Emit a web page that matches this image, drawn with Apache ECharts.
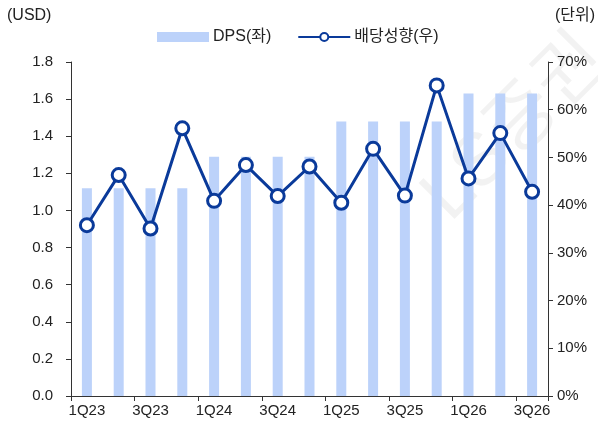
<!DOCTYPE html>
<html><head><meta charset="utf-8">
<script src="https://cdn.jsdelivr.net/npm/echarts@6/dist/echarts.min.js"></script>
<style>html,body{margin:0;padding:0;background:#fff}#c{width:598px;height:426px}</style>
</head><body><div id="c"></div>
<script>
const categories = ['1Q23','2Q23','3Q23','4Q23','1Q24','2Q24','3Q24','4Q24','1Q25','2Q25','3Q25','4Q25','1Q26','2Q26','3Q26'];
const dps = [1.12,1.12,1.12,1.12,1.29,1.29,1.29,1.29,1.48,1.48,1.48,1.48,1.63,1.63,1.63];
const payout = [35.8,46.3,35.1,56.1,40.9,48.4,41.9,48.1,40.5,51.8,42.0,65.1,45.6,55.1,42.8];
const leftTicks = [0,0.2,0.4,0.6,0.8,1.0,1.2,1.4,1.6,1.8];
const rightTicks = [0,10,20,30,40,50,60,70];

const font = '"Liberation Sans","Noto Sans CJK KR",sans-serif';
const chart = echarts.init(document.getElementById('c'));
chart.setOption({
  animation:false,
  textStyle:{fontFamily:font},
  grid:{left:71,right:50,top:62,bottom:30,containLabel:false},
  legend:{
    top:24,left:152,itemGap:26,itemWidth:52,itemHeight:10,
    textStyle:{fontSize:16,color:'#222',fontFamily:font,padding:[0,0,0,-1]},
    data:[{name:'DPS(좌)',icon:'rect'},{name:'배당성향(우)'}]
  },
  graphic:[
    {type:'text',left:7,top:8,style:{text:'(USD)',fontSize:16,fill:'#222',fontFamily:font}},
    {type:'text',right:3,top:8,style:{text:'(단위)',fontSize:16,fill:'#222',fontFamily:font}},
    {type:'text',x:462,y:235,rotation:Math.PI/4,z:-1,style:{text:'LS증권',fontSize:74,verticalAlign:'bottom',fill:'rgba(0,0,0,0.05)',fontFamily:font}}
  ],
  xAxis:{
    type:'category',data:categories,boundaryGap:true,
    axisLine:{lineStyle:{color:'#333',width:1}},
    axisTick:{show:true,alignWithLabel:false,length:5,lineStyle:{color:'#333'}},
    axisLabel:{interval:1,color:'#222',fontSize:15,margin:7,fontFamily:font}
  },
  yAxis:[
    {type:'value',min:0,max:1.8,interval:0.2,
     axisLine:{show:true,lineStyle:{color:'#333'}},
     axisTick:{show:true,length:5,lineStyle:{color:'#333'}},
     splitLine:{show:false},
     axisLabel:{color:'#222',fontSize:15,margin:18,formatter:v=>v.toFixed(1),fontFamily:font}},
    {type:'value',min:0,max:70,interval:10,position:'right',
     axisLine:{show:true,lineStyle:{color:'#333'}},
     axisTick:{show:true,length:5,lineStyle:{color:'#333'}},
     splitLine:{show:false},
     axisLabel:{color:'#222',fontSize:15,margin:9,formatter:'{value}%',fontFamily:font}}
  ],
  series:[
    {name:'DPS(좌)',type:'bar',data:dps,barWidth:10,itemStyle:{color:'#BCD2FA'},yAxisIndex:0},
    {name:'배당성향(우)',type:'line',data:payout,yAxisIndex:1,symbol:'circle',symbolSize:13,
     lineStyle:{color:'#0A3A9A',width:3},
     itemStyle:{color:'#fff',borderColor:'#0A3A9A',borderWidth:3}}
  ]
});
</script></body></html>
